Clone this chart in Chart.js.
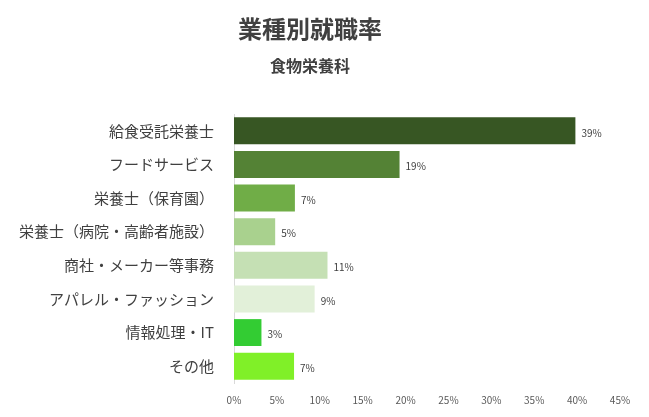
<!DOCTYPE html>
<html><head><meta charset="utf-8">
<script src="https://cdn.jsdelivr.net/npm/chart.js@4"></script>
<style>html,body{margin:0;background:#fff}#w{width:649px;height:417px}</style>
</head><body><div id="w"><canvas id="c"></canvas></div>
<script>
const categories=["給食受託栄養士","フードサービス","栄養士（保育園）","栄養士（病院・高齢者施設）","商社・メーカー等事務","アパレル・ファッション","情報処理・IT","その他"];
const values=[39.8,19.3,7.1,4.8,10.9,9.4,3.2,7.0];
const labels=["39%","19%","7%","5%","11%","9%","3%","7%"];
const colors=["#375623","#548235","#70AD47","#A9D18E","#C5E0B4","#E2F0D9","#33CC33","#80F028"];
const lbl={id:"lbl",afterDatasetsDraw(ch){const ctx=ch.ctx;const m=ch.getDatasetMeta(0);ctx.save();ctx.font="10px 'Noto Sans CJK JP'";ctx.fillStyle="#404040";ctx.textBaseline="middle";m.data.forEach((b,i)=>ctx.fillText(labels[i],b.x+6,b.y+2));ctx.restore();}};
new Chart(document.getElementById("c"),{type:"bar",data:{labels:categories,datasets:[{data:values,backgroundColor:colors,barPercentage:0.8,categoryPercentage:1}]},
options:{indexAxis:"y",responsive:true,maintainAspectRatio:false,animation:false,
layout:{padding:{left:0,right:29,top:0,bottom:8}},
plugins:{legend:{display:false},tooltip:{enabled:false},
title:{display:true,text:"業種別就職率",font:{size:24,weight:"bold",family:"'Noto Sans CJK JP'"},color:"#404040",padding:{top:14,bottom:14}},
subtitle:{display:true,text:"食物栄養科",font:{size:16,weight:"bold",family:"'Noto Sans CJK JP'"},color:"#404040",padding:{bottom:38}}},
scales:{x:{min:0,max:45,ticks:{stepSize:5,callback:v=>v+"%",color:"#595959",font:{size:10,family:"'Noto Sans CJK JP'"}},grid:{display:false},border:{display:false}},
y:{afterFit:s=>{s.width=234;},ticks:{color:"#404040",font:{size:15,family:"'Noto Sans CJK JP'"},padding:12},grid:{display:false},border:{color:"#d9d9d9"}}}},
plugins:[lbl]});
</script></body></html>
